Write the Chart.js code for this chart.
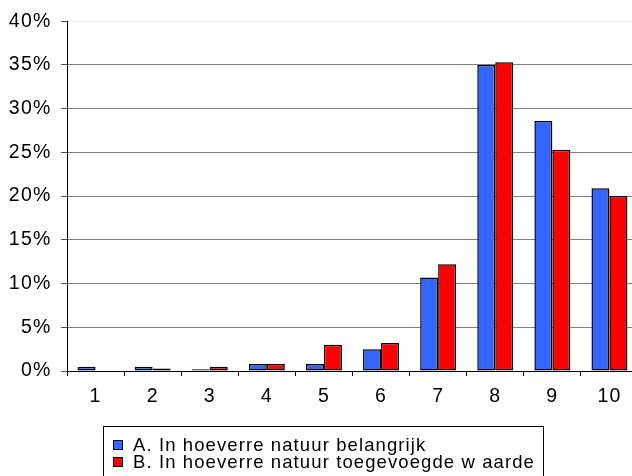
<!DOCTYPE html>
<html>
<head>
<meta charset="utf-8">
<script src="https://cdn.jsdelivr.net/npm/chart.js@4/dist/chart.umd.min.js"></script>
<style>
  html, body { margin: 0; padding: 0; background: #fff; overflow: hidden; }
  #wrap { position: relative; width: 632px; height: 476px; overflow: hidden; }
  #c { position: absolute; left: 0; top: 0; }
  #legend {
    position: absolute; left: 103px; top: 426px; width: 441px; height: 60px;
    border: 1px solid #000; border-bottom: none; box-sizing: border-box;
    font-family: "Liberation Sans", Arial, sans-serif; font-size: 18.5px; color: #000;
    letter-spacing: 1.1px;
    padding: 9px 0 0 9px;
  }
  .item { height: 17px; line-height: 17px; white-space: nowrap; display: flex; align-items: center; }
  .sw { width: 8px; height: 8px; border: 1px solid #000; margin-right: 10px; flex: none; }
</style>
</head>
<body>
<div id="wrap">
  <canvas id="c" width="640" height="476"></canvas>
  <div id="legend"></div>
</div>
<script>
const categories = ['1', '2', '3', '4', '5', '6', '7', '8', '9', '10'];
const seriesA = [0.5, 0.5, 0.2, 0.8, 0.8, 2.5, 10.7, 35.0, 28.6, 20.9];
const seriesB = [0.0, 0.3, 0.5, 0.8, 3.0, 3.2, 12.2, 35.3, 25.3, 20.0];
const labelA = 'A. In hoeverre natuur belangrijk';
const labelB = 'B. In hoeverre natuur toegevoegde w aarde';
const yTickValues = [0, 5, 10, 15, 20, 25, 30, 35, 40];
const colorA = '#3366ff';
const colorB = '#ff0000';

const font = { family: '"Liberation Sans", Arial, sans-serif', size: 19.5 };

const spacingPlugin = {
  id: 'spacing',
  beforeDraw: c => { c.ctx.letterSpacing = '1.2px'; }
};

const chart = new Chart(document.getElementById('c'), {
  type: 'bar',
  data: {
    labels: categories,
    datasets: [
      { label: labelA, data: seriesA, backgroundColor: colorA, borderColor: '#000', borderWidth: 1.5, borderSkipped: false, categoryPercentage: 0.63, barPercentage: 1 },
      { label: labelB, data: seriesB, backgroundColor: colorB, borderColor: '#000', borderWidth: 1.5, borderSkipped: false, categoryPercentage: 0.63, barPercentage: 1 }
    ]
  },
  plugins: [spacingPlugin],
  options: {
    responsive: false,
    animation: false,
    devicePixelRatio: 1,
    layout: { padding: { top: 19, right: 2, left: 0, bottom: 65 } },
    plugins: { legend: { display: false }, tooltip: { enabled: false } },
    scales: {
      x: {
        grid: { offset: true, drawOnChartArea: false, drawTicks: true, tickLength: 5, tickColor: '#000' },
        border: { display: true, color: '#000', width: 1 },
        ticks: { color: '#000', font: font, padding: 9, maxRotation: 0, autoSkip: false },
        afterFit: s => { s.height = 40; }
      },
      y: {
        min: 0, max: 40,
        afterBuildTicks: s => { s.ticks = yTickValues.map(v => ({ value: v })); },
        grid: {
          color: ctx => (ctx.tick && ctx.tick.value === 40) ? '#eeeeee' : '#808080',
          tickColor: '#555', tickLength: 6, lineWidth: 1
        },
        border: { display: true, color: '#000', width: 1 },
        ticks: { color: '#000', font: font, padding: 9.5, callback: v => v + '%' },
        afterFit: s => { s.width = 67; }
      }
    }
  }
});

const lg = document.getElementById('legend');
chart.data.datasets.forEach(ds => {
  const it = document.createElement('div');
  it.className = 'item';
  const sw = document.createElement('span');
  sw.className = 'sw';
  sw.style.background = ds.backgroundColor;
  const tx = document.createElement('span');
  tx.textContent = ds.label;
  it.appendChild(sw); it.appendChild(tx);
  lg.appendChild(it);
});
</script>
</body>
</html>
